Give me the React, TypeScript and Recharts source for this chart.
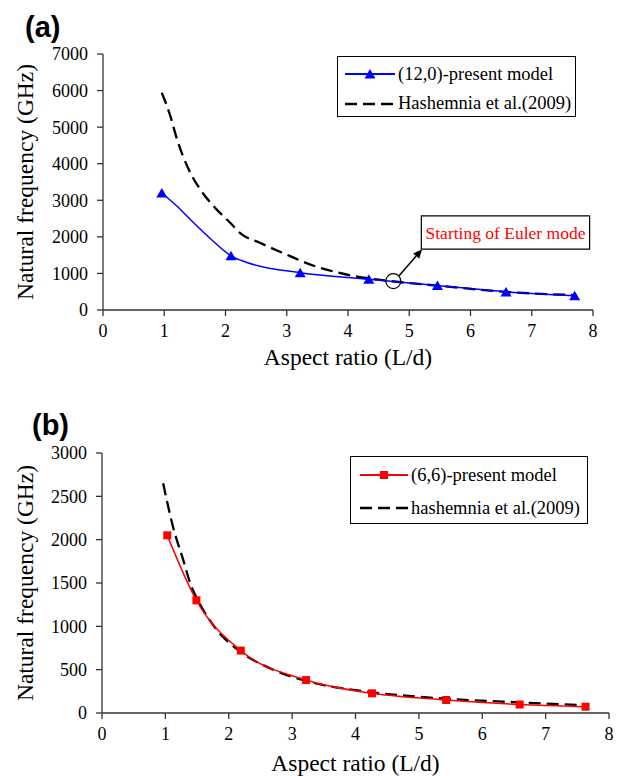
import {
  Legend,
  Line,
  LineChart,
  ReferenceArea,
  ReferenceDot,
  ReferenceLine,
  XAxis,
  YAxis
} from 'recharts';

const SERIF = "'Liberation Serif', 'Times New Roman', serif";
const SANS = "'Liberation Sans', Arial, sans-serif";

const ticksX = [0, 1, 2, 3, 4, 5, 6, 7, 8];
const ticksYA = [0, 1000, 2000, 3000, 4000, 5000, 6000, 7000];
const ticksYB = [0, 500, 1000, 1500, 2000, 2500, 3000];

// (a) (12,0) present model: marked points + unmarked bends of the curve
const ratioA = [0.96, 2.09, 3.22, 4.34, 5.46, 6.58, 7.7];
const freqA = [3200, 1480, 1020, 840, 670, 495, 390];
const bendRatioA = [1.2, 1.5, 1.8, 2.35];
const bendFreqA = [2850, 2350, 1880, 1300];

// (a) Hashemnia et al. (2009)
const hashRatioA = [0.96, 1.1, 1.21, 1.4, 1.59, 1.81, 2.08, 2.24, 2.57, 2.95, 3.44, 3.77, 4.09, 4.5, 5.46, 6.58, 7.74];
const hashFreqA = [5940, 5300, 4660, 3840, 3290, 2830, 2380, 2100, 1830, 1550, 1210, 1050, 930, 830, 665, 495, 405];

// (b) (6,6) present model
const ratioB = [1.03, 1.49, 2.19, 3.22, 4.26, 5.43, 6.59, 7.63];
const freqB = [2050, 1300, 720, 380, 227, 150, 98, 73];

// (b) hashemnia et al. (2009)
const hashRatioB = [0.965, 1.12, 1.28, 1.41, 1.5, 1.81, 2.19, 2.7, 3.22, 4.26, 5.43, 6.59, 7.6];
const hashFreqB = [2650, 2150, 1770, 1460, 1320, 960, 705, 500, 370, 240, 165, 122, 90];

const legendA = ['(12,0)-present model', 'Hashemnia et al.(2009)'];
const legendB = ['(6,6)-present model', 'hashemnia et al.(2009)'];
const eulerNote = 'Starting of Euler mode';

const rows = (xs: number[], ys: number[], m = true) => xs.map((x, i) => ({ x, y: ys[i], m }));

const blueRows = [...rows(ratioA, freqA), ...rows(bendRatioA, bendFreqA, false)].sort((a, b) => a.x - b.x);
const hashRowsA = rows(hashRatioA, hashFreqA);
const redRows = rows(ratioB, freqB);
const hashRowsB = rows(hashRatioB, hashFreqB);

const tickStyle = { fontFamily: SERIF, fontSize: 18, fill: '#000' };
const axisLine = { stroke: '#333', strokeWidth: 1.3 };

const triangle = (p: any) => {
  if (p.cx == null || !p.payload.m) return <g key={p.key} />;
  const { cx, cy } = p;
  return (
    <polygon
      key={p.key}
      points={`${cx},${cy - 5} ${cx - 5.5},${cy + 4.5} ${cx + 5.5},${cy + 4.5}`}
      fill="#0000FF"
    />
  );
};

const square = (p: any) => {
  if (p.cx == null) return <g key={p.key} />;
  return <rect key={p.key} x={p.cx - 4} y={p.cy - 4} width={8} height={8} fill="#FF0000" />;
};

const yTitle = (p: any) => {
  const cy = p.viewBox.y + p.viewBox.height / 2;
  return (
    <text x={33} y={cy} transform={`rotate(-90, 33, ${cy})`} textAnchor="middle"
      fontFamily={SERIF} fontSize={23.5} fill="#000">
      Natural frequency (GHz)
    </text>
  );
};

const xTitle = (dy: number) => (p: any) => (
  <text x={p.viewBox.x + p.viewBox.width / 2} y={p.viewBox.y + dy} textAnchor="middle"
    fontFamily={SERIF} fontSize={23.5} fill="#000">
    Aspect ratio (L/d)
  </text>
);

const arrow = (p: any) => {
  const { x1, y1, x2, y2 } = p;
  const ang = Math.atan2(y2 - y1, x2 - x1);
  const L = 9, W = 4;
  const bx = x2 - L * Math.cos(ang), by = y2 - L * Math.sin(ang);
  const px = -Math.sin(ang) * W, py = Math.cos(ang) * W;
  return (
    <g>
      <line x1={x1} y1={y1} x2={bx} y2={by} stroke="#000" strokeWidth={1.5} />
      <polygon points={`${x2},${y2} ${bx + px},${by + py} ${bx - px},${by - py}`} fill="#000" />
    </g>
  );
};

const LegendBox = ({ labels, color, marker, w, h, padTop, rowH, padLeft, iconW }: any) => (
  <div style={{
    width: w, height: h, boxSizing: 'border-box', border: '1.3px solid #000', background: '#fff',
    paddingTop: padTop, paddingLeft: padLeft, fontFamily: SERIF, fontSize: 18.5, color: '#000'
  }}>
    <div style={{ display: 'flex', alignItems: 'center', height: rowH }}>
      <svg width={iconW} height={14} style={{ marginRight: 3 }}>
        <line x1={0} y1={7} x2={iconW} y2={7} stroke={color} strokeWidth={1.8} />
        {marker === 'tri'
          ? <polygon points={`${iconW / 2},${2} ${iconW / 2 - 5.5},${11.5} ${iconW / 2 + 5.5},${11.5}`} fill={color} />
          : <rect x={iconW / 2 - 4} y={3} width={8} height={8} fill={color} />}
      </svg>
      <span style={{ lineHeight: 1 }}>{labels[0]}</span>
    </div>
    <div style={{ display: 'flex', alignItems: 'center', height: rowH }}>
      <svg width={iconW} height={14} style={{ marginRight: 3 }}>
        <line x1={0} y1={7} x2={iconW} y2={7} stroke="#000" strokeWidth={2.3} strokeDasharray="12 6" />
      </svg>
      <span style={{ lineHeight: 1 }}>{labels[1]}</span>
    </div>
  </div>
);

const panelLabel = (text: string, left: number, top: number) => (
  <div style={{ position: 'absolute', left, top, fontFamily: SANS, fontWeight: 'bold', fontSize: 29, lineHeight: 1 }}>
    {text}
  </div>
);

export default function App() {
  return (
    <div style={{ position: 'absolute', left: 0, top: 0, width: 622, height: 776, background: '#fff', fontFamily: SERIF }}>
      {panelLabel('(a)', 25, 13)}
      <div style={{ position: 'absolute', left: 0, top: 0 }}>
        <LineChart width={622} height={375} margin={{ top: 54, right: 29, bottom: 0, left: 0 }} style={{ fontFamily: SERIF }}>
          <XAxis type="number" dataKey="x" domain={[0, 8]} ticks={ticksX} allowDuplicatedCategory={false}
            height={65} tick={tickStyle} tickSize={6} tickMargin={8} axisLine={axisLine} tickLine={axisLine}
            label={{ content: xTitle(55) }} />
          <YAxis type="number" domain={[0, 7000]} ticks={ticksYA} width={103}
            tick={tickStyle} tickSize={6} tickMargin={9} axisLine={axisLine} tickLine={axisLine}
            label={{ content: yTitle }} />
          <Legend verticalAlign="middle" align="center" content={() => (
            <LegendBox labels={legendA} color="#0000FF" marker="tri" w={239} h={61}
              padTop={2} rowH={29.7} padLeft={7} iconW={50} />
          )} wrapperStyle={{ position: 'absolute', left: 337, top: 56, width: 239, height: 61 }} />
          <Line data={hashRowsA} dataKey="y" type="monotone" stroke="#000" strokeWidth={2.3}
            strokeDasharray="12 6" dot={false} isAnimationActive={false} />
          <Line data={blueRows} dataKey="y" type="monotone" stroke="#0000FF" strokeWidth={1.5}
            dot={triangle} isAnimationActive={false} />
          <ReferenceDot x={4.74} y={790} r={7.5} fill="none" stroke="#000" strokeWidth={1.2} />
          <ReferenceLine segment={[{ x: 4.83, y: 930 }, { x: 5.21, y: 1660 }]} shape={arrow} />
          <ReferenceArea x1={5.197} x2={7.945} y1={1663} y2={2575} fill="#fff" fillOpacity={1}
            stroke="#000" strokeWidth={1.2}
            label={{ value: eulerNote, position: 'center', fill: '#FF0000', fontFamily: SERIF, fontSize: 17.5 }} />
        </LineChart>
      </div>

      {panelLabel('(b)', 32, 411)}
      <div style={{ position: 'absolute', left: 0, top: 390 }}>
        <LineChart width={622} height={386} margin={{ top: 63, right: 13, bottom: 0, left: 0 }} style={{ fontFamily: SERIF }}>
          <XAxis type="number" dataKey="x" domain={[0, 8]} ticks={ticksX} allowDuplicatedCategory={false}
            height={63} tick={tickStyle} tickSize={6} tickMargin={8} axisLine={axisLine} tickLine={axisLine}
            label={{ content: xTitle(58) }} />
          <YAxis type="number" domain={[0, 3000]} ticks={ticksYB} width={102}
            tick={tickStyle} tickSize={6} tickMargin={9} axisLine={axisLine} tickLine={axisLine}
            label={{ content: yTitle }} />
          <Legend verticalAlign="middle" align="center" content={() => (
            <LegendBox labels={legendB} color="#FF0000" marker="sq" w={238} h={68}
              padTop={1.8} rowH={33} padLeft={9} iconW={48} />
          )} wrapperStyle={{ position: 'absolute', left: 350, top: 66, width: 238, height: 68 }} />
          <Line data={hashRowsB} dataKey="y" type="monotone" stroke="#000" strokeWidth={2.3}
            strokeDasharray="12 6" dot={false} isAnimationActive={false} />
          <Line data={redRows} dataKey="y" type="monotone" stroke="#FF0000" strokeWidth={1.5}
            dot={square} isAnimationActive={false} />
        </LineChart>
      </div>
    </div>
  );
}
